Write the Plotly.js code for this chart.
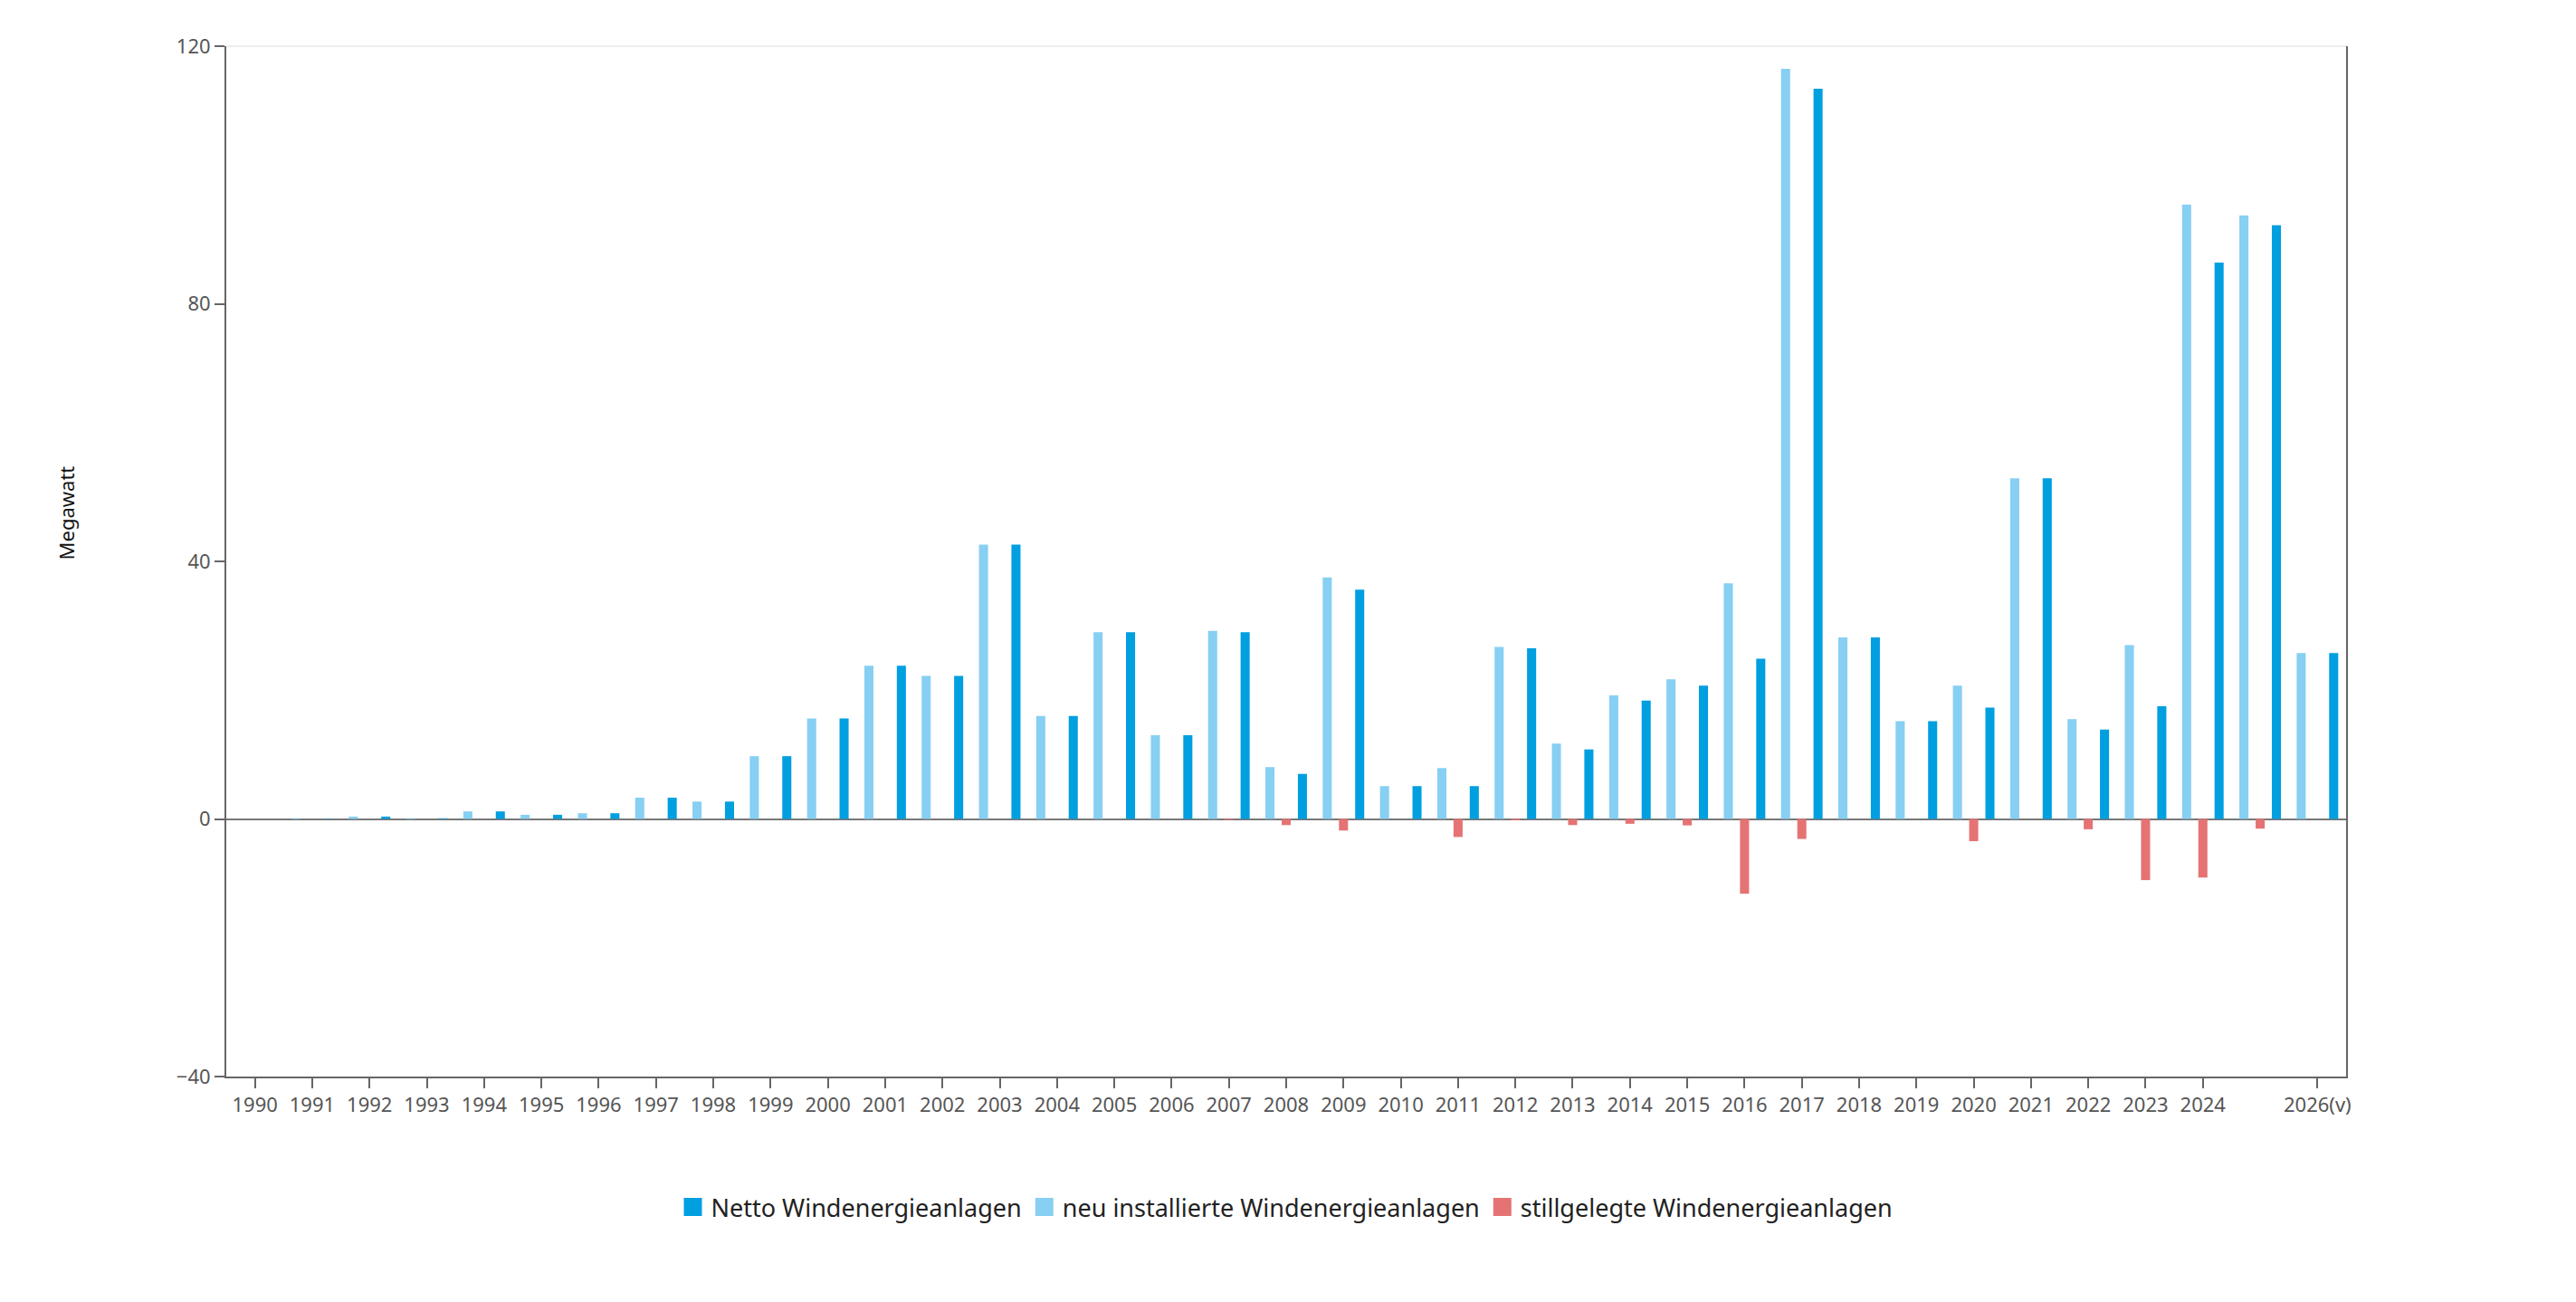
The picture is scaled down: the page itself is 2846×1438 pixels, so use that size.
<!DOCTYPE html>
<html>
<head>
<meta charset="utf-8">
<script src="https://cdn.plot.ly/plotly-3.0.1.min.js"></script>
<style>
  html, body { margin: 0; padding: 0; background: #fff; }
  #chart { width: 2846px; height: 1438px; }
</style>
</head>
<body>
<div id="chart"></div>
<script>
// Jahre (2026 = Vorschau)
var years = ['1990', '1991', '1992', '1993', '1994', '1995', '1996', '1997', '1998', '1999',
  '2000', '2001', '2002', '2003', '2004', '2005', '2006', '2007', '2008', '2009',
  '2010', '2011', '2012', '2013', '2014', '2015', '2016', '2017', '2018', '2019',
  '2020', '2021', '2022', '2023', '2024', '2025', '2026(v)'];

// Megawatt
var netto = [0, 0.05, 0.37, 0.1, 1.17, 0.65, 0.89, 3.3, 2.7, 9.75,
  15.6, 23.8, 22.2, 42.6, 16.0, 29.0, 13.0, 29.0, 7.0, 35.6,
  5.1, 5.1, 26.5, 10.8, 18.4, 20.7, 24.9, 113.4, 28.2, 15.2,
  17.3, 52.9, 13.9, 17.5, 86.4, 92.2, 25.75];

var neuInstalliert = [0, 0.1, 0.37, 0.1, 1.17, 0.65, 0.89, 3.3, 2.7, 9.75,
  15.6, 23.8, 22.2, 42.6, 16.0, 29.0, 13.0, 29.2, 8.05, 37.5,
  5.1, 7.9, 26.7, 11.7, 19.2, 21.7, 36.6, 116.5, 28.2, 15.2,
  20.7, 52.9, 15.5, 27.0, 95.4, 93.7, 25.75];

var stillgelegt = [0, 0, 0, 0, 0, 0, 0, 0, 0, 0,
  0, 0, 0, 0, 0, 0, 0, -0.15, -0.95, -1.8,
  0, -2.8, -0.2, -0.95, -0.75, -1.0, -11.6, -3.1, 0, 0,
  -3.45, 0, -1.6, -9.5, -9.1, -1.5, 0];

// 2025 hat keine Beschriftung
var tickYears = years.filter(y => y !== '2025');

var font = '"Noto Sans", "Open Sans", sans-serif';
var colNetto = '#009fe0', colNeu = '#87cff3', colStill = '#e57373';

// Reihenfolge der Traces = Reihenfolge in der Gruppe (hell, rot, dunkel)
var traceNeu = {
  x: years, y: neuInstalliert, type: 'bar', showlegend: false,
  marker: { color: colNeu }
};

var traceStill = {
  x: years, y: stillgelegt, type: 'bar', showlegend: false,
  marker: { color: colStill }
};

var traceNetto = {
  x: years, y: netto, type: 'bar', showlegend: false,
  marker: { color: colNetto }
};

// Legende mit größeren Quadraten
function legendEntry(name, color) {
  return {
    x: [null], y: [null], type: 'scatter', mode: 'markers', name: name,
    marker: { symbol: 'square', size: 16, color: color, line: { color: color, width: 4 } }
  };
}

var legendItems = [
  legendEntry('Netto Windenergieanlagen', colNetto),
  legendEntry('neu installierte Windenergieanlagen', colNeu),
  legendEntry('stillgelegte Windenergieanlagen', colStill)
];

var layout = {
  barmode: 'group',
  bargap: 0.15,
  bargroupgap: 0.44,
  paper_bgcolor: '#fff',
  plot_bgcolor: '#fff',
  font: { family: font, size: 22, color: '#555' },
  margin: { l: 250, r: 254, t: 51, b: 249 },
  showlegend: true,
  legend: {
    orientation: 'h',
    x: 0.5,
    xanchor: 'center',
    y: -0.127,
    yanchor: 'middle',
    itemwidth: 30,
    font: { family: font, size: 27, color: '#222' },
    itemclick: false
  },
  xaxis: {
    type: 'category',
    tickvals: tickYears,
    ticktext: tickYears,
    showline: true,
    linecolor: '#666',
    linewidth: 2,
    ticks: 'outside',
    ticklen: 11,
    tickwidth: 2,
    tickcolor: '#666',
    showgrid: false,
    tickangle: 0,
    tickfont: { family: font, size: 22, color: '#555' }
  },
  yaxis: {
    range: [-40, 120],
    tickvals: [-40, 0, 40, 80, 120],
    showline: true,
    mirror: true,
    linecolor: '#666',
    linewidth: 2,
    ticks: 'outside',
    ticklen: 11,
    tickwidth: 2,
    tickcolor: '#666',
    showgrid: false,
    zeroline: true,
    zerolinecolor: '#777',
    zerolinewidth: 2,
    tickfont: { family: font, size: 22, color: '#555' }
  },
  annotations: [{
    text: 'Megawatt',
    xref: 'paper', yref: 'paper',
    x: -0.0756, y: 0.547,
    xanchor: 'center', yanchor: 'middle',
    textangle: -90,
    showarrow: false,
    font: { family: font, size: 22, color: '#111' }
  }],
  shapes: [{
    type: 'line', xref: 'paper', yref: 'paper',
    x0: 0, x1: 1, y0: 1, y1: 1,
    line: { color: '#eeeeee', width: 2 }
  }]
};

Plotly.newPlot('chart', [traceNeu, traceStill, traceNetto].concat(legendItems), layout,
  { displayModeBar: false, staticPlot: true });
</script>
</body>
</html>
